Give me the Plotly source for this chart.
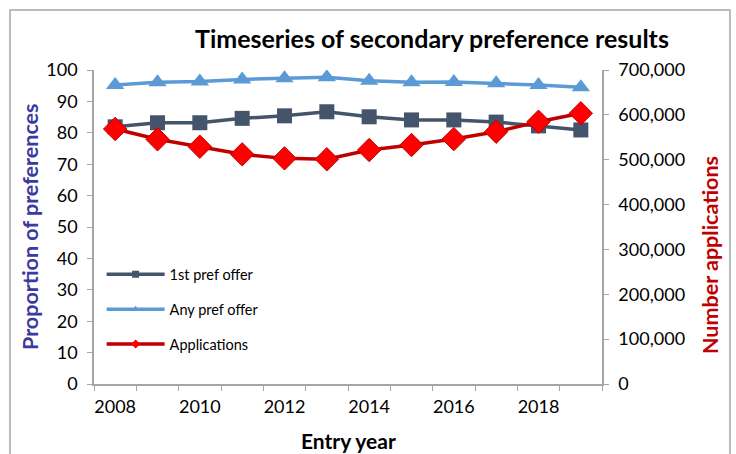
import plotly.graph_objects as go

years = list(range(2008, 2020))
first_pref = [81.9, 83.2, 83.2, 84.6, 85.4, 86.7, 85.1, 84.1, 84.1, 83.4, 82.2, 80.9]
any_pref = [95.2, 96.1, 96.3, 97.0, 97.4, 97.7, 96.6, 96.1, 96.2, 95.8, 95.2, 94.5]
applications = [568500, 545500, 529000, 512000, 503000, 501000, 521600, 532800, 546000, 562400, 584700, 603500]
x_tick_labels = ["2008", "2010", "2012", "2014", "2016", "2018"]

C_FIRST = "#44546A"
C_ANY = "#5B9BD5"
C_APP_LINE = "#C00000"
C_APP_MARK = "#FF0000"
FONT = "Lato"

fig = go.Figure()
fig.add_trace(go.Scatter(x=years, y=first_pref, mode="lines+markers", name="1st pref offer",
                         line=dict(color=C_FIRST, width=3.5),
                         marker=dict(symbol="square", size=15, color=C_FIRST),
                         showlegend=False))
fig.add_trace(go.Scatter(x=years, y=any_pref, mode="lines+markers", name="Any pref offer",
                         line=dict(color=C_ANY, width=3.5),
                         marker=dict(symbol="triangle-up", size=16, color=C_ANY),
                         showlegend=False))
fig.add_trace(go.Scatter(x=years, y=applications, mode="lines+markers", name="Applications",
                         yaxis="y2",
                         line=dict(color=C_APP_LINE, width=3.5),
                         marker=dict(symbol="diamond", size=18, color=C_APP_MARK,
                                     line=dict(color=C_APP_LINE, width=1)),
                         showlegend=False))

# legend entries (small markers like the reference legend)
fig.add_trace(go.Scatter(x=[None], y=[None], mode="lines+markers", name="1st pref offer",
                         line=dict(color=C_FIRST, width=3.5),
                         marker=dict(symbol="square", size=7, color=C_FIRST), legendgroup="a"))
fig.add_trace(go.Scatter(x=[None], y=[None], mode="lines+markers", name="Any pref offer",
                         line=dict(color=C_ANY, width=3.5),
                         marker=dict(symbol="triangle-up", size=7, color=C_ANY), legendgroup="b"))
fig.add_trace(go.Scatter(x=[None], y=[None], mode="lines+markers", name="Applications",
                         line=dict(color=C_APP_LINE, width=3.5),
                         marker=dict(symbol="diamond", size=7, color=C_APP_MARK), legendgroup="c"))

axis_grey = "#A6A6A6"

fig.update_layout(
    width=736, height=454,
    margin=dict(l=94, r=134, t=70, b=70),
    paper_bgcolor="white", plot_bgcolor="white",
    font=dict(family=FONT, size=18, color="black"),
    showlegend=True,
    legend=dict(x=0.015, y=0.40, xanchor="left", yanchor="top",
                bgcolor="rgba(0,0,0,0)", font=dict(size=14.5, family=FONT),
                traceorder="grouped", tracegroupgap=13, itemwidth=58),
    xaxis=dict(range=[2007.5, 2019.5], tickmode="array",
               tickvals=[int(t) for t in x_tick_labels], ticktext=x_tick_labels,
               ticks="", showline=True, linecolor=axis_grey, linewidth=1.5,
               showgrid=False, zeroline=False, ticklabelstandoff=6,
               minor=dict(ticks="outside", tick0=2007.5, dtick=1, ticklen=5,
                          tickcolor=axis_grey, showgrid=False)),
    yaxis=dict(range=[0, 100], dtick=10, ticks="outside", ticklen=5, tickcolor=axis_grey,
               showline=True, linecolor=axis_grey, linewidth=1.5, showgrid=False,
               zeroline=False, ticklabelstandoff=6),
    yaxis2=dict(range=[0, 700000], dtick=100000, tickformat=",", overlaying="y", side="right",
                ticks="outside", ticklen=5, tickcolor=axis_grey, showline=True,
                linecolor=axis_grey, linewidth=1.5, showgrid=False, zeroline=False,
                ticklabelstandoff=6),
)

fig.add_shape(type="rect", xref="paper", yref="paper",
              x0=(10 - 94) / 508, x1=(730 - 94) / 508,
              y0=(384 - 470) / 314, y1=(384 - 10) / 314,
              line=dict(color=axis_grey, width=1.5), layer="below")

fig.add_annotation(text="<b>Timeseries of secondary preference results</b>",
                   xref="paper", yref="paper", x=(432 - 94) / 508, y=(384 - 38) / 314,
                   showarrow=False, font=dict(size=25, family=FONT, color="black"),
                   xanchor="center", yanchor="middle")
fig.add_annotation(text="<b>Entry year</b>", xref="paper", yref="paper",
                   x=0.5, y=(384 - 440) / 314, showarrow=False,
                   font=dict(size=21, family=FONT, color="black"),
                   xanchor="center", yanchor="middle")
fig.add_annotation(text="<b>Proportion of preferences</b>", xref="paper", yref="paper",
                   x=(30 - 94) / 508, y=0.5, showarrow=False, textangle=-90,
                   font=dict(size=21.5, family=FONT, color="#3A3AA0"),
                   xanchor="center", yanchor="middle")
fig.add_annotation(text="<b>Number applications</b>", xref="paper", yref="paper",
                   x=(710 - 94) / 508, y=(384 - 255) / 314, showarrow=False, textangle=-90,
                   font=dict(size=21.5, family=FONT, color=C_APP_LINE),
                   xanchor="center", yanchor="middle")

fig.write_html("out.html", config={"displayModeBar": False},
               post_script="document.body.style.margin='0';")
